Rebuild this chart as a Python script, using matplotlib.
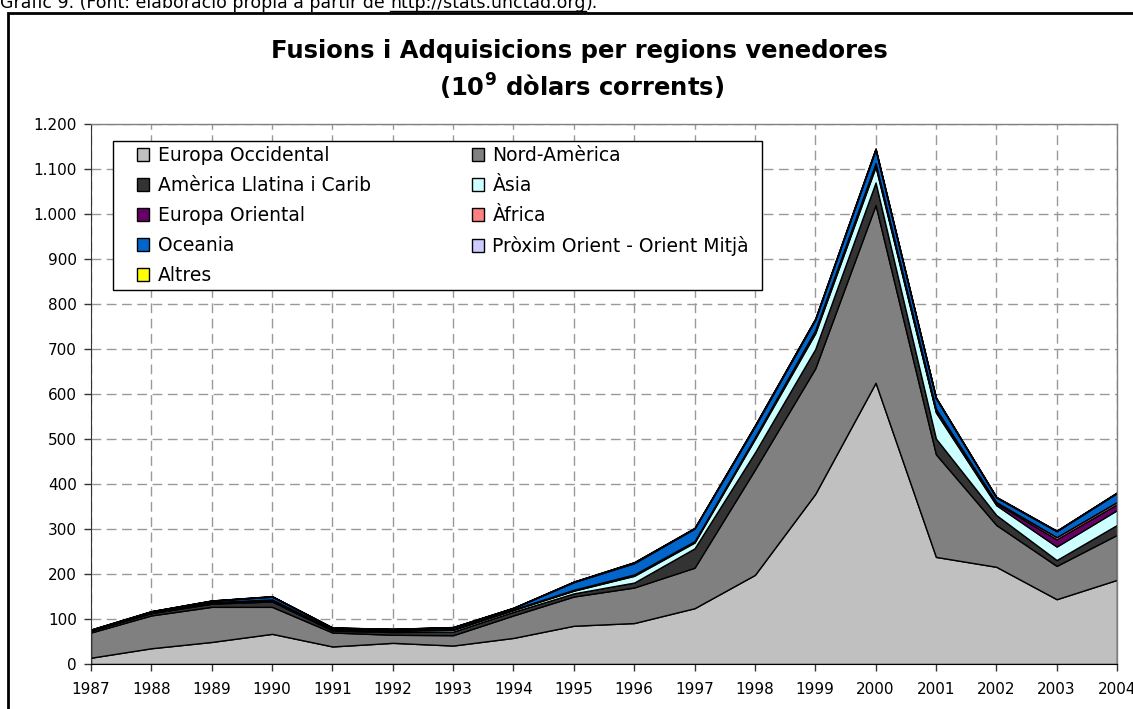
import matplotlib
matplotlib.use("Agg")
import matplotlib.pyplot as plt
from matplotlib.patches import Patch, Rectangle
from matplotlib.lines import Line2D

plt.rcParams['font.family'] = ['DejaVu Sans']
plt.rcParams['lines.scale_dashes'] = False

# ---------------- data ----------------
years = [1987, 1988, 1989, 1990, 1991, 1992, 1993, 1994, 1995,
         1996, 1997, 1998, 1999, 2000, 2001, 2002, 2003, 2004]
year_labels = [str(y) for y in years]

europa_occidental = [14, 35, 49, 67, 39, 47, 41, 58, 85, 91, 124, 198, 378, 625, 238, 216, 144, 187]
nord_america      = [56, 73, 78, 60, 31, 18, 23, 50, 65, 79, 90, 234, 279, 395, 228, 93, 74, 100]
america_llatina   = [4, 5, 7, 12, 4, 6, 8, 8, 7, 11, 43, 38, 43, 50, 35, 22, 13, 22]
asia              = [0.5, 1, 2, 3, 2, 3, 4, 4, 6, 15, 13, 30, 35, 35, 58, 22, 30, 33]
europa_oriental   = [0.2, 0.3, 0.5, 0.5, 1, 1, 1, 1, 1, 2, 2, 3, 5, 5, 3, 4, 16, 13]
africa            = [0.5, 0.5, 1, 1, 0.5, 0.5, 0.5, 0.5, 1, 1, 1, 1, 2, 3, 5, 3, 5, 5]
oceania           = [1, 2, 3, 6, 3, 2, 4, 3, 17, 25, 28, 24, 23, 30, 24, 10, 13, 20]
proxim_orient     = [0.3, 0.5, 0.5, 1, 0.5, 0.5, 0.5, 0.5, 1, 2, 1, 2, 2, 2, 1, 1, 1, 1]
altres            = [0.1, 0.2, 0.2, 0.3, 0.2, 0.2, 0.2, 0.2, 0.3, 0.3, 0.3, 0.5, 0.5, 0.5, 0.3, 0.3, 0.3, 0.3]

series_names = ["Europa Occidental", "Nord-Amèrica", "Amèrica Llatina i Carib", "Àsia",
                "Europa Oriental", "Àfrica", "Oceania", "Pròxim Orient - Orient Mitjà", "Altres"]
series_colors = ["#C0C0C0", "#808080", "#333333", "#CCFFFF",
                 "#660066", "#FF8080", "#0066CC", "#CCCCFF", "#FFFF00"]

ytick_values = [0, 100, 200, 300, 400, 500, 600, 700, 800, 900, 1000, 1100, 1200]
ytick_labels = ["0", "100", "200", "300", "400", "500", "600", "700", "800", "900",
                "1.000", "1.100", "1.200"]

title_line1 = "Fusions i Adquisicions per regions venedores"
title_line2 = r"(10$^{\mathbf{9}}$ dòlars corrents)"
caption_prefix = "Gràfic 9. (Font: elaboració pròpia a partir de "
caption_url = "http://stats.unctad.org"
caption_suffix = ")."

# ---------------- figure ----------------
W, H = 1133, 709
fig = plt.figure(figsize=(W / 100, H / 100), dpi=100)

def fx(px):
    return px / W

def fy(py):
    return 1 - py / H

ax = fig.add_axes([fx(91), fy(664), fx(1117) - fx(91), fy(124) - fy(664)])

series = [europa_occidental, nord_america, america_llatina, asia, europa_oriental,
          africa, oceania, proxim_orient, altres]
ax.stackplot(years, *series, colors=series_colors, edgecolor="black",
             linewidth=1.0, zorder=2)

ax.set_xlim(years[0], years[-1])
ax.set_ylim(0, 1200)
ax.set_xticks(years)
ax.set_xticklabels(year_labels)
ax.set_yticks(ytick_values)
ax.set_yticklabels(ytick_labels)
ax.tick_params(axis="both", direction="out", length=5, width=1, labelsize=11,
               color="#333333")
ax.tick_params(axis="x", pad=8)
ax.tick_params(axis="y", pad=5)

ax.grid(True, color="#999999", linestyle=(0, (7, 4)), linewidth=1)
ax.set_axisbelow(True)

for side in ["top", "right"]:
    ax.spines[side].set_color("#808080")
    ax.spines[side].set_linewidth(1)
ax.spines["left"].set_color("#333333")
ax.spines["bottom"].set_color("#000000")

# legend box
box = Rectangle((fx(113), fy(290)), fx(762) - fx(113), fy(141) - fy(290),
                transform=fig.transFigure, facecolor="white", edgecolor="black",
                linewidth=1, zorder=4, clip_on=False)
ax.add_patch(box)

order = [0, 2, 4, 6, 8, 1, 3, 5, 7]
handles = [Patch(facecolor=series_colors[i], edgecolor="black", linewidth=1) for i in order]
labels = [series_names[i] for i in order]
leg = ax.legend(handles, labels, ncol=2, loc="upper left",
                bbox_to_anchor=(fx(137), fy(146)), bbox_transform=fig.transFigure,
                frameon=False, fontsize=13.5, handlelength=0.65, handleheight=0.65,
                handletextpad=0.45, columnspacing=5.4, labelspacing=0.59,
                borderpad=0, borderaxespad=0)
leg.set_zorder(5)

# frame around chart
frame = Rectangle((fx(8), fy(760)), fx(1200) - fx(8), fy(13) - fy(760),
                  transform=fig.transFigure, facecolor="none", edgecolor="black",
                  linewidth=2, clip_on=False)
fig.patches.append(frame)

# titles
fig.text(fx(579), fy(51), title_line1, ha="center", va="center",
         fontsize=17.5, fontweight="bold")
fig.text(fx(582), fy(87), title_line2, ha="center", va="center",
         fontsize=17.5, fontweight="bold")

# caption (cut at top)
fig.canvas.draw()
renderer = fig.canvas.get_renderer()
cy = fy(8)
cap_size = 12.5
t1 = fig.text(0.0, cy, caption_prefix, fontsize=cap_size, va="baseline")
bb1 = t1.get_window_extent(renderer)
t2 = fig.text(bb1.x1 / W, cy, caption_url, fontsize=cap_size, va="baseline", color="black")
bb2 = t2.get_window_extent(renderer)
t3 = fig.text(bb2.x1 / W, cy, caption_suffix, fontsize=cap_size, va="baseline")
fig.lines.append(Line2D([bb2.x0 / W, bb2.x1 / W], [fy(10.5), fy(10.5)],
                        transform=fig.transFigure, color="black", linewidth=1))

fig.savefig("out.png", dpi=100)
